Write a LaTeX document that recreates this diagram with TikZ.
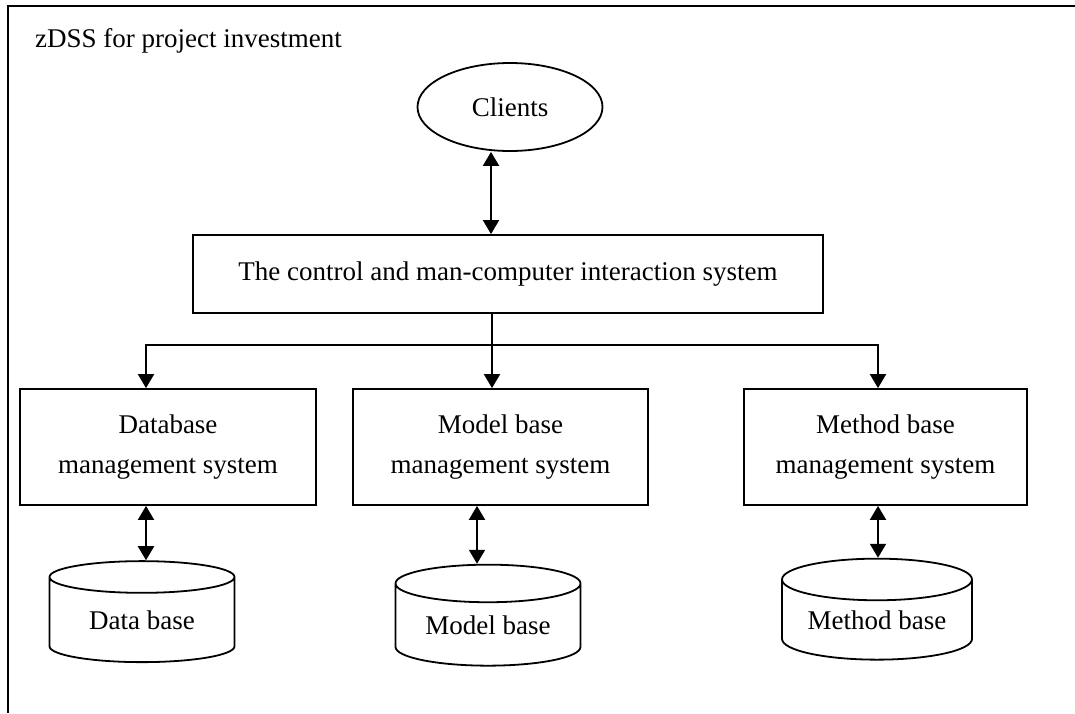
\documentclass[tikz,border=0pt]{standalone}
\usepackage{fontspec}
\setmainfont{Liberation Serif}
\usepackage{tikz}
\usetikzlibrary{shapes,arrows.meta}

\begin{document}
\begin{tikzpicture}[x=0.5pt,y=-0.5pt,
   font=\fontsize{13.5}{20}\selectfont,
   box/.style={draw,line width=0.9pt,align=center,inner sep=0pt},
   store/.style={draw,line width=0.9pt,cylinder,shape border rotate=90,aspect=0.3,inner sep=0pt,minimum width=92.5pt,minimum height=50.5pt},
   tri/.tip={Triangle[length=7pt,width=8pt]},
   link/.style={line width=1pt}]
   \useasboundingbox (0,0) rectangle (1075,713);
   % outer frame
   \draw[line width=1pt] (8,713) -- (8,6) -- (1075,6);
   \node[anchor=base west] (title) at (28,47) {zDSS for project investment};

   \node[draw,line width=0.9pt,ellipse,inner sep=0pt,minimum width=92.5pt,minimum height=44pt] (clients) at (510,107) {Clients};
   \node[box,minimum width=315pt,minimum height=39pt] (ctrl) at (508,274) {The control and man-computer interaction system};

   \node[box,minimum width=148pt,minimum height=58pt] (dbms) at (168,447) {Database\\management system};
   \node[box,minimum width=147.5pt,minimum height=58pt] (mbms) at (500.5,447) {Model base\\management system};
   \node[box,minimum width=141.5pt,minimum height=58pt] (mtbms) at (885.5,447) {Method base\\management system};

   \node[store] (db) at (142,620) {Data base};
   \node[store] (mb) at (488,625) {Model base};
   \node[store,minimum width=95pt] (mtb) at (877,620) {Method base};

   \coordinate (ax) at (491,0);
   \coordinate (bus) at (492,345);
   \coordinate (dbx) at (146,0);
   \coordinate (mbx) at (477,0);
   \coordinate (mtx) at (878,0);

   \draw[link,tri-tri] (clients.south -| ax) -- (ctrl.north -| ax);
   \draw[link,-tri] (ctrl.south -| bus) -- (mbms.north -| bus);
   \draw[link,-tri] (bus) -| (dbms.north -| dbx);
   \draw[link,-tri] (bus) -| (mtbms.north -| mtx);
   %  database side
   \draw[link,tri-tri] (dbms.south -| dbx) -- (db.north -| dbx);
   \draw[link,tri-tri] (mbms.south -| mbx) -- (mb.north -| mbx);
   \draw[link,tri-tri] (mtbms.south -| mtx) -- (mtb.north -| mtx);
\end{tikzpicture}
\end{document}
